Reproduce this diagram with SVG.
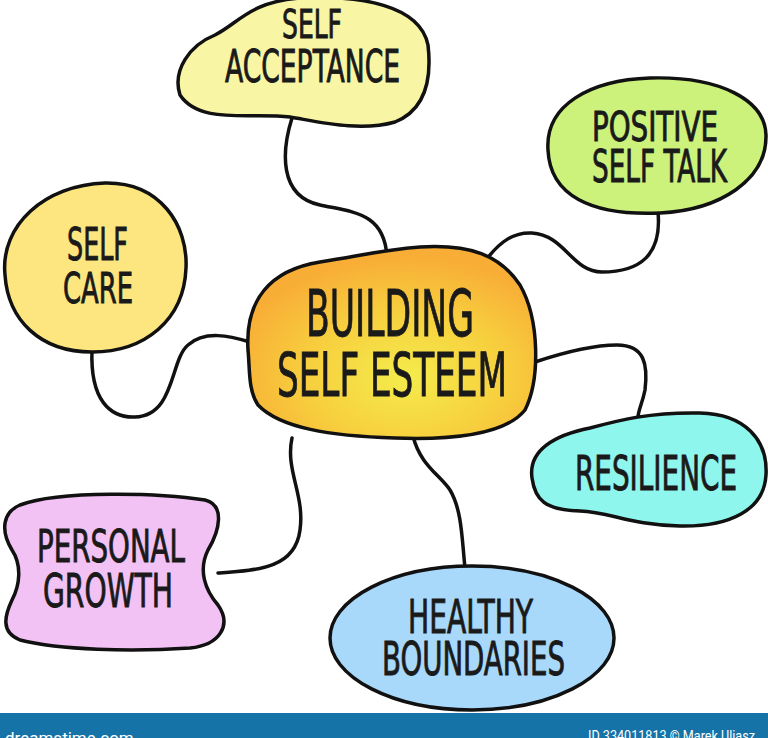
<svg xmlns="http://www.w3.org/2000/svg" width="768" height="738" viewBox="0 0 768 738">
<defs>
<radialGradient id="centerGrad" cx="0.55" cy="0.68" r="0.62">
<stop offset="0" stop-color="#f4ec4c"/>
<stop offset="0.55" stop-color="#f7cf3e"/>
<stop offset="1" stop-color="#f8ae36"/>
</radialGradient>
<style>
.blob{stroke:#111;stroke-width:3.5;stroke-linejoin:round}
.conn{fill:none;stroke:#111;stroke-width:3.5;stroke-linecap:round}
.lbl{font-family:"Liberation Sans Narrow","DejaVu Sans Condensed","Liberation Sans",sans-serif;fill:#1a1a1a;stroke:#1a1a1a;stroke-width:0.9;text-anchor:start}
.foot{font-family:"Roboto","Liberation Sans",sans-serif;fill:#ffffff}
</style>
</defs>
<rect width="768" height="738" fill="#ffffff"/>
<g id="connectors">
<path class="conn" d="M292,118 C282,150 278,196 320,205 C352,212 385,212 387,258"/>
<path class="conn" d="M483,264 C500,240 515,232 532,233 C565,235 572,272 602,272 C640,272 662,255 658,212"/>
<path class="conn" d="M92,350 C90,400 110,418 135,417 C175,416 170,360 188,345 C205,330 230,336 250,342"/>
<path class="conn" d="M535,362 C565,352 595,345 617,345 C645,345 648,365 645,390 C642,405 638,410 638,418"/>
<path class="conn" d="M218,573 C260,570 295,568 300,530 C305,495 285,470 292,438"/>
<path class="conn" d="M413,436 C420,465 440,475 450,490 C462,510 462,540 465,568"/>
</g>
<g id="node-self-acceptance">
<path class="blob" fill="#f8f6a4" d="M180,95 C172,70 190,45 215,35 C240,22 250,2 300,-2 C360,-5 420,5 428,45 C432,80 425,110 395,122 C360,132 320,122 290,117 C250,112 200,125 180,95 Z"/>
<text class="lbl" x="282" y="38" font-size="39" textLength="60" lengthAdjust="spacingAndGlyphs">SELF</text>
<text class="lbl" x="225" y="82" font-size="44" textLength="175" lengthAdjust="spacingAndGlyphs">ACCEPTANCE</text>
</g>
<g id="node-positive-self-talk">
<path class="blob" fill="#ccf27c" d="M548,150 C545,105 590,80 650,78 C720,76 765,100 766,135 C767,180 720,210 660,213 C590,216 550,195 548,150 Z"/>
<text class="lbl" x="592" y="141" font-size="40" textLength="126" lengthAdjust="spacingAndGlyphs">POSITIVE</text>
<text class="lbl" x="592" y="182" font-size="44" textLength="135" lengthAdjust="spacingAndGlyphs">SELF TALK</text>
</g>
<g id="node-self-care">
<path class="blob" fill="#fde680" d="M5,275 C0,225 45,185 105,183 C160,182 188,225 186,268 C184,320 145,352 92,352 C40,352 8,320 5,275 Z"/>
<text class="lbl" x="67" y="260" font-size="45" textLength="61" lengthAdjust="spacingAndGlyphs">SELF</text>
<text class="lbl" x="63" y="303" font-size="43" textLength="70" lengthAdjust="spacingAndGlyphs">CARE</text>
</g>
<g id="node-center">
<path class="blob" fill="url(#centerGrad)" d="M248,350 C245,300 270,270 320,262 C360,256 380,250 420,247 C470,244 500,255 520,285 C540,320 540,380 525,410 C505,435 450,440 395,438 C330,436 280,428 258,405 C248,390 250,370 248,350 Z"/>
<text class="lbl" x="306" y="336" font-size="64" textLength="168" lengthAdjust="spacingAndGlyphs">BUILDING</text>
<text class="lbl" x="277" y="396" font-size="61" textLength="230" lengthAdjust="spacingAndGlyphs">SELF ESTEEM</text>
</g>
<g id="node-resilience">
<path class="blob" fill="#8ef6ec" d="M532,478 C528,450 555,435 590,428 C620,420 650,412 700,413 C745,414 768,440 766,475 C764,510 730,527 680,526 C630,525 610,512 580,511 C545,510 535,500 532,478 Z"/>
<text class="lbl" x="575" y="490" font-size="48" textLength="162" lengthAdjust="spacingAndGlyphs">RESILIENCE</text>
</g>
<g id="node-personal-growth">
<path class="blob" fill="#f3c2f5" d="M20,505 C60,490 160,493 205,500 C225,505 220,530 208,550 C198,570 205,590 218,605 C232,625 220,645 190,648 C130,652 60,650 20,640 C0,632 5,615 12,600 C20,585 22,565 12,550 C0,530 3,512 20,505 Z"/>
<text class="lbl" x="37" y="562" font-size="44" textLength="148" lengthAdjust="spacingAndGlyphs">PERSONAL</text>
<text class="lbl" x="43" y="607" font-size="46" textLength="130" lengthAdjust="spacingAndGlyphs">GROWTH</text>
</g>
<g id="node-healthy-boundaries">
<ellipse class="blob" fill="#a8d8fa" cx="472" cy="638" rx="142" ry="72"/>
<text class="lbl" x="408" y="633" font-size="46" textLength="125" lengthAdjust="spacingAndGlyphs">HEALTHY</text>
<text class="lbl" x="382" y="675" font-size="46" textLength="183" lengthAdjust="spacingAndGlyphs">BOUNDARIES</text>
</g>
<g id="footer">
<rect x="0" y="713" width="768" height="25" fill="#1673a8"/>
<text class="foot" x="5" y="744" font-size="17">dreamstime.com</text>
<text class="foot" x="588" y="741" font-size="14" textLength="167" lengthAdjust="spacingAndGlyphs">ID 334011813 © Marek Uliasz</text>
</g>
</svg>
